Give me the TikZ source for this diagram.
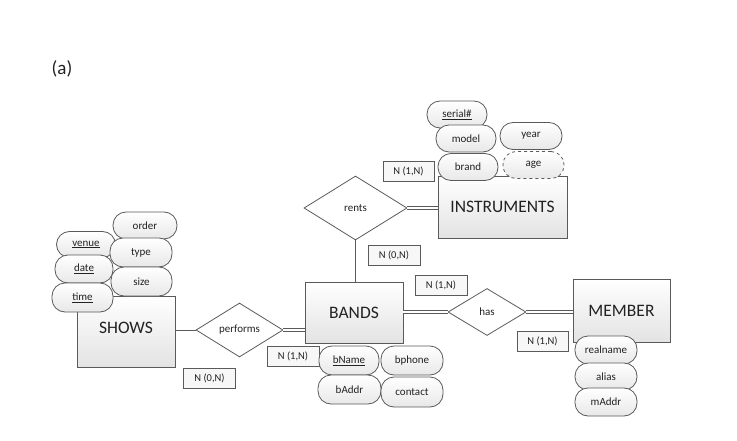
\documentclass[tikz,border=0pt]{standalone}
\usepackage{fontspec}
\setmainfont{Carlito}
\usetikzlibrary{shapes.geometric}
\definecolor{ln}{HTML}{5A5A5A}
\definecolor{tx}{HTML}{222222}
\tikzset{
  entity/.style={draw=ln, line width=0.9pt, top color=white, bottom color=black!11, text=tx,
    minimum width=98pt, minimum height=62pt, inner sep=0pt, font=\fontsize{17.5}{20}\selectfont},
  attr/.style={draw=ln, line width=0.8pt, top color=white, bottom color=black!9, text=tx,
    rounded corners=13pt, minimum width=61pt, minimum height=27pt, inner sep=0pt,
    font=\fontsize{11}{13}\selectfont},
  dattr/.style={attr, dashed},
  rel/.style={diamond, draw=ln, line width=0.8pt, fill=white, text=tx, inner sep=0pt,
    font=\fontsize{11}{13}\selectfont},
  card/.style={draw=ln, line width=0.8pt, fill=black!3, text=tx, minimum width=52pt,
    minimum height=20pt, inner sep=0pt, font=\fontsize{10.5}{12}\selectfont},
  link/.style={draw=ln, line width=0.8pt},
  dlink/.style={draw=ln, line width=0.7pt, double=white, double distance=2.6pt},
}
\begin{document}
\begin{tikzpicture}[x=1pt,y=-1pt]
\path[use as bounding box, fill=white] (0,0) rectangle (737,441);
\node[text=tx, font=\fontsize{19}{22}\selectfont] (lbl) at (62,69) {(a)};

% entities
\node[entity, minimum width=129pt, minimum height=62pt] (instr) at (502.5,207) {INSTRUMENTS};
\node[entity, minimum width=98pt, minimum height=61pt] (bands) at (354,312.5) {BANDS};
\node[entity, minimum width=98pt, minimum height=71pt] (shows) at (126,331.5) {};
\node[text=tx, font=\fontsize{17.5}{20}\selectfont] (showst) at (126,328) {SHOWS};
\node[entity, minimum width=97pt, minimum height=63pt] (member) at (621.5,310.5) {MEMBER};

% relationships
\node[rel, minimum width=103pt, minimum height=64pt] (rents) at (355.5,208) {rents};
\node[rel, minimum width=87pt, minimum height=54pt] (performs) at (239.5,330) {performs};
\node[rel, minimum width=78pt, minimum height=47pt] (has) at (487,312) {has};

% connectors
\draw[dlink] (rents.east) -- (rents.east -| instr.west);
\draw[link] (rents.south) -- (rents.south |- bands.north);
\draw[link] (performs.west) -- (performs.west -| shows.east);
\draw[dlink] (performs.east) -- (performs.east -| bands.west);
\draw[dlink] (has.west) -- (has.west -| bands.east);
\draw[dlink] (has.east) -- (has.east -| member.west);

% cardinalities
\node[card, minimum width=51pt] (c1) at (408.5,171) {N (1,N)};
\node[card] (c2) at (394,255.5) {N (0,N)};
\node[card] (c3) at (441,285) {N (1,N)};
\node[card] (c4) at (293,356) {N (1,N)};
\node[card] (c5) at (209.5,378) {N (0,N)};
\node[card, minimum width=51pt] (c6) at (542.5,341.5) {N (1,N)};

% instrument attributes
\node[attr, minimum width=60pt] (serial) at (457,114.5) {\underline{serial\#}};
\node[attr, minimum width=60pt] (model) at (466,138.5) {model};
\node[attr, minimum width=60pt] (brand) at (468,167) {brand};
\node[attr, minimum width=62pt] (year) at (531,136) {year};
\node[dattr, minimum width=61pt] (age) at (533.5,165) {age};

% shows attributes
\node[attr, minimum width=64pt] (order) at (145,225.5) {order};
\node[attr, minimum width=59pt, minimum height=26pt] (venue) at (86,244.5) {\underline{venue}};
\node[attr, minimum width=62pt, minimum height=29pt] (type) at (141,252.5) {type};
\node[attr, minimum width=58pt, minimum height=28pt] (date) at (84,269) {\underline{date}};
\node[attr, minimum width=61pt, minimum height=29pt] (size) at (141.5,281.5) {size};
\node[attr, minimum width=61pt, minimum height=29pt] (time) at (82.5,297.5) {\underline{time}};

% bands attributes
\node[attr, minimum width=60pt, minimum height=29pt] (bname) at (349,360.5) {\underline{bName}};
\node[attr, minimum width=62pt, minimum height=29pt] (bphone) at (412,360.5) {bphone};
\node[attr, minimum width=63pt, minimum height=29pt] (baddr) at (349.5,389.5) {bAddr};
\node[attr, minimum width=62pt, minimum height=30pt] (contact) at (412,392) {contact};

% member attributes
\node[attr, minimum width=62pt, minimum height=28pt] (realname) at (606,350) {realname};
\node[attr, minimum width=62pt, minimum height=27pt] (alias) at (606,376.5) {alias};
\node[attr, minimum width=62pt, minimum height=28pt] (maddr) at (606,402) {mAddr};
\end{tikzpicture}
\end{document}
